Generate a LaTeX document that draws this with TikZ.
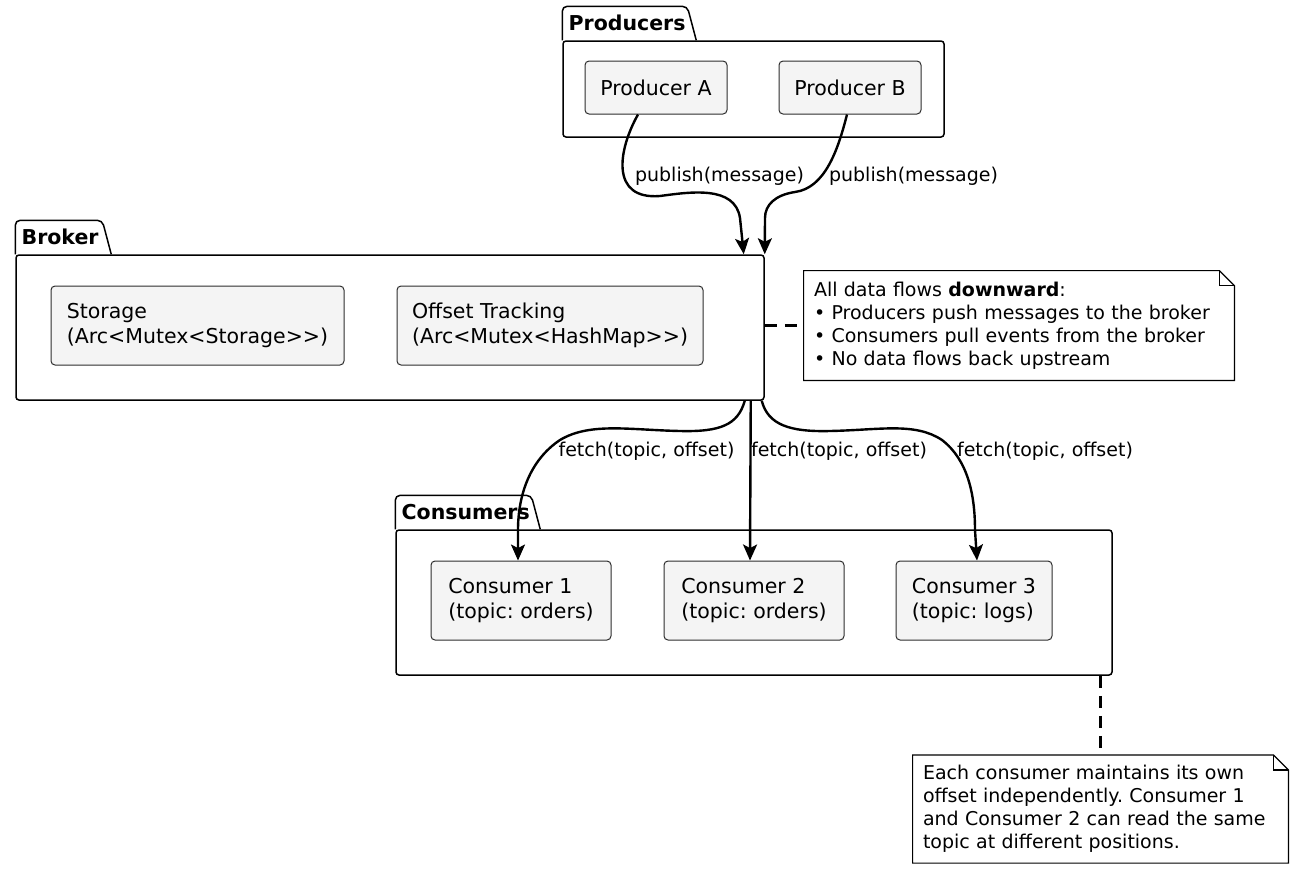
\documentclass[tikz,border=0pt]{standalone}
\usepackage{fontspec}
\setmainfont{DejaVu Sans}
\usetikzlibrary{arrows.meta,positioning}
\definecolor{BoxFill}{RGB}{244,244,244}
\definecolor{BoxLine}{RGB}{45,45,45}
\frenchspacing

\newcommand{\pkgtab}[3]{%
  \draw[pkgline,rounded corners=2.5pt] (#1.north west) -- ++(0,-34) -- ++(#2-9,0) -- ++(9,34);
  \node[pkgtitle,anchor=west] (#1-title) at ([xshift=3pt,yshift=8.5pt]#1.north west) {#3};}
\newcommand{\notefold}[1]{%
  \draw[noteline] (#1.north west) -- ([xshift=-7.5pt]#1.north east) -- ([yshift=-7.5pt]#1.north east) -- (#1.south east) -- (#1.south west) -- cycle;
  \draw[noteline] ([xshift=-7.5pt]#1.north east) |- ([yshift=-7.5pt]#1.north east);}

\begin{document}
\begin{tikzpicture}[x=0.5pt,y=-0.5pt,
pkgline/.style={draw=black,line width=0.75pt},
pkgbody/.style={pkgline,rounded corners=1.5pt,inner sep=0pt},
pkgtitle/.style={font=\fontsize{10.25}{12.5}\selectfont\bfseries,inner sep=0pt},
box/.style={draw=BoxLine,line width=0.5pt,fill=BoxFill,rounded corners=2pt,minimum height=39.5pt,align=left,inner sep=0pt,font=\fontsize{10.25}{12.5}\selectfont},
lbl/.style={font=\fontsize{9.5}{11.5}\selectfont,inner sep=0pt},
note/.style={align=left,inner sep=5pt,font=\fontsize{9.5}{11.5}\selectfont},
noteline/.style={draw=black,line width=0.6pt},
arr/.style={-{Stealth[length=8pt,width=7pt,inset=1.8pt]},line width=1.2pt},
dashline/.style={line width=1.2pt,dash pattern=on 6pt off 4pt}
]
\useasboundingbox (0,0) rectangle (1298,874);

\node[pkgbody,minimum width=190.5pt,minimum height=48pt] (prodpkg) at (753.5,89) {};
\pkgtab{prodpkg}{134}{Producers}
\node[box,minimum width=71pt,minimum height=26.5pt] (pA) at (656,87.5) {Producer A};
\node[box,minimum width=71pt,minimum height=26.5pt,right=25.5pt of pA] (pB) {Producer B};

\node[pkgbody,minimum width=374pt,minimum height=72.5pt] (broker) at (390,327.5) {};
\pkgtab{broker}{96}{Broker}
\node[box,minimum width=146.5pt] (sto) at (197.5,325.5) {Storage\\(Arc<Mutex<Storage>{}>)};
\node[box,minimum width=153pt,right=26pt of sto] (off) {Offset Tracking\\(Arc<Mutex<HashMap>{}>)};

\node[pkgbody,minimum width=358pt,minimum height=72.5pt] (conspkg) at (754,602.5) {};
\pkgtab{conspkg}{145}{Consumers}
\node[box,minimum width=90pt] (c1) at (521,600.5) {Consumer 1\\(topic: orders)};
\node[box,minimum width=90pt,right=26pt of c1] (c2) {Consumer 2\\(topic: orders)};
\node[box,minimum width=78pt,right=25.5pt of c2] (c3) {Consumer 3\\(topic: logs)};

\node[note,minimum width=215pt,minimum height=54.5pt,text width=205pt] (n1) at (1019,325.5) {All data flows \textbf{downward}:\\• Producers push messages to the broker\\• Consumers pull events from the broker\\• No data flows back upstream};
\notefold{n1}
\node[note,minimum width=187.5pt,minimum height=53pt,text width=177.5pt] (n2) at (1100.5,809) {Each consumer maintains its own\\offset independently. Consumer 1\\and Consumer 2 can read the same\\topic at different positions.};
\notefold{n2}

\draw[dashline] (n1.west -| broker.east) -- (n1.west);
\draw[dashline] (n2.north |- conspkg.south) -- (n2.north);

\draw[arr] ([xshift=-9pt]pA.south) .. controls (618,150) and (610,200) .. (660,196) .. controls (690,192) and (735,185) .. (740,218) -- ([xshift=-10.5pt]broker.north east);
\draw[arr] ([xshift=-1.5pt]pB.south) .. controls (838,150) and (825,188) .. (795,192) .. controls (775,195) and (765,205) .. (765,218) -- (broker.north east);
\node[lbl] (lpA) at (719.5,176) {publish(message)};
\node[lbl] (lpB) at (913.5,176) {publish(message)};

\draw[arr] ([xshift=-10pt]broker.south east) .. controls (738,425) and (720,432) .. (680,431) .. controls (630,430) and (590,422) .. (560,440) .. controls (530,460) and (518,495) .. (518,530) -- ([xshift=-1.5pt]c1.north);
\draw[arr] ([xshift=-7pt]broker.south east) -- ([xshift=-2pt]c2.north);
\draw[arr] ([xshift=-1.5pt]broker.south east) .. controls (768,425) and (790,432) .. (830,431) .. controls (880,430) and (915,422) .. (942,440) .. controls (968,460) and (975,495) .. (975,530) -- ([xshift=1.5pt]c3.north);
\node[lbl] (lf1) at (646.5,451) {fetch(topic, offset)};
\node[lbl] (lf2) at (839,451) {fetch(topic, offset)};
\node[lbl] (lf3) at (1045,451) {fetch(topic, offset)};
\end{tikzpicture}
\end{document}
